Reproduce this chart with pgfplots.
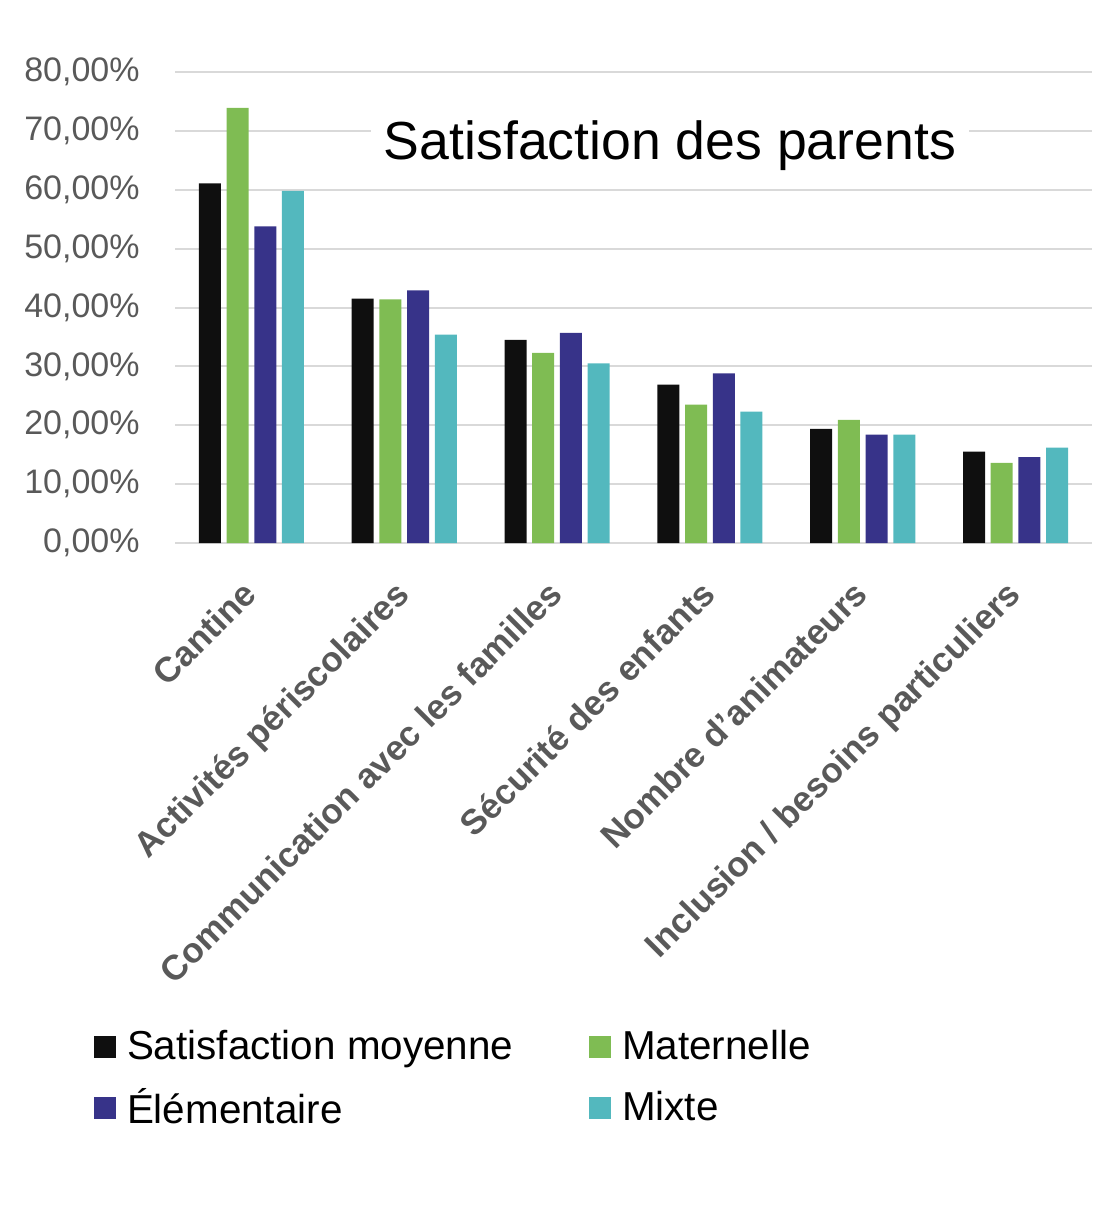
\documentclass[border=0pt]{standalone}
\usepackage{pgfplots}
\pgfplotsset{compat=1.18}
\usepackage{fontspec}
\setmainfont{Liberation Sans}
\definecolor{cBlack}{HTML}{0F0F0F}
\definecolor{cGreen}{HTML}{7FBC53}
\definecolor{cBlue}{HTML}{373389}
\definecolor{cTeal}{HTML}{53B8BE}
\definecolor{cGrid}{HTML}{D9D9D9}
\definecolor{cTick}{HTML}{595959}
\begin{document}
\begin{tikzpicture}
\path[use as bounding box] (0,0) rectangle (552pt,611.5pt);
\begin{axis}[
  at={(87.5pt,340pt)}, anchor=south west,
  scale only axis, width=458.5pt, height=235.5pt,
  ybar=2.85pt, bar width=11pt,
  xmin=-0.5, xmax=5.5, ymin=0, ymax=80, enlargelimits=false,
  xtick={0,1,2,3,4,5},
  xticklabels={Cantine, Activités périscolaires, Communication avec les familles, Sécurité des enfants, Nombre d’animateurs, Inclusion / besoins particuliers},
  ytick={0,10,20,30,40,50,60,70,80},
  yticklabels={{0,00\%},{10,00\%},{20,00\%},{30,00\%},{40,00\%},{50,00\%},{60,00\%},{70,00\%},{80,00\%}},
  axis line style={draw=none}, tick style={draw=none}, major tick length=0pt,
  ymajorgrids, grid style={cGrid, line width=1pt},
  xticklabel style={xshift=-5.5pt, yshift=-17.5pt, rotate=45, anchor=north east, inner sep=0pt, font=\fontsize{17.5}{18}\selectfont\bfseries, text=cTick},
  yticklabel style={anchor=east, inner sep=0pt, xshift=-17.5pt, font=\fontsize{17}{18}\selectfont, text=cTick},
  legend columns=2, legend cell align=left,
  legend style={at={(-0.0883,-1.1374)}, anchor=west, draw=none, fill=none, inner sep=0pt, outer sep=0pt,
    font=\fontsize{20.2}{21}\selectfont, row sep=13pt, nodes={inner sep=0pt},
    /tikz/every odd column/.append style={column sep=5.5pt}},
  legend image code/.code={\fill[#1] (0pt,-5.5pt) rectangle (11pt,5.5pt);},
]
\addplot[fill=cBlack, draw=none] coordinates {(0,61.1) (1,41.5) (2,34.5) (3,26.9) (4,19.4) (5,15.5)};
\addplot[fill=cGreen, draw=none] coordinates {(0,73.9) (1,41.4) (2,32.3) (3,23.5) (4,20.9) (5,13.6)};
\addplot[fill=cBlue, draw=none] coordinates {(0,53.8) (1,42.9) (2,35.7) (3,28.8) (4,18.4) (5,14.6)};
\addplot[fill=cTeal, draw=none] coordinates {(0,59.8) (1,35.4) (2,30.5) (3,22.3) (4,18.4) (5,16.2)};
\addlegendentry{\makebox[231pt][l]{Satisfaction moyenne}}
\addlegendentry{Maternelle}
\addlegendentry{\makebox[231pt][l]{Élémentaire}}
\addlegendentry{Mixte}
\end{axis}
\node[fill=white, inner xsep=6.5pt, anchor=base, font=\fontsize{26.8}{28}\selectfont] at (335pt,531.5pt) {Satisfaction des parents};
\end{tikzpicture}
\end{document}
